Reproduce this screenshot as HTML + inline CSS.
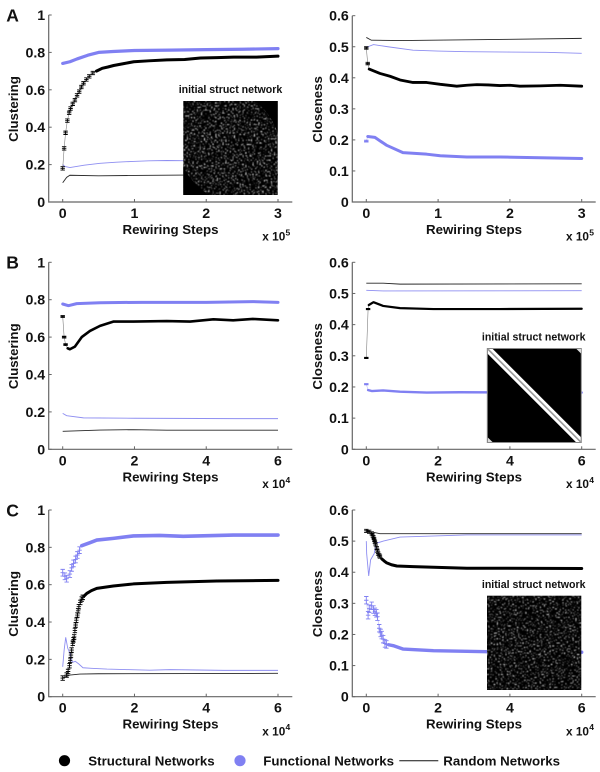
<!DOCTYPE html>
<html>
<head>
<meta charset="utf-8">
<title>Rewiring of networks</title>
<style>
html,body{margin:0;padding:0;background:#fff;}
svg{display:block;filter:blur(0.3px);}
text{font-family:"Liberation Sans",Arial,sans-serif;font-weight:bold;fill:#111;}
</style>
</head>
<body>
<svg id="figure" xmlns="http://www.w3.org/2000/svg" width="600" height="772" viewBox="0 0 600 772">
<defs>
<filter id="noiseA" x="0" y="0" width="100%" height="100%" color-interpolation-filters="sRGB">
<feTurbulence type="fractalNoise" baseFrequency="0.7" numOctaves="1" seed="4"/>
<feColorMatrix type="matrix" values="0 0 0 0 1  0 0 0 0 1  0 0 0 0 1  7 0 0 0 -4.0"/>
<feGaussianBlur stdDeviation="0.4"/>
</filter>
<filter id="noiseC" x="0" y="0" width="100%" height="100%" color-interpolation-filters="sRGB">
<feTurbulence type="fractalNoise" baseFrequency="0.7" numOctaves="1" seed="11"/>
<feColorMatrix type="matrix" values="0 0 0 0 1  0 0 0 0 1  0 0 0 0 1  7 0 0 0 -4.1"/>
<feGaussianBlur stdDeviation="0.4"/>
</filter>
<clipPath id="bclip"><rect x="487.8" y="349" width="93" height="93"/></clipPath>
</defs>
<g id="charts"></g>

<g id="inset-a">
<text x="230.5" y="93" font-size="10.6" text-anchor="middle">initial struct network</text>
<rect x="183.3" y="101" width="94.4" height="94" fill="#000"/>
<rect x="183.3" y="101" width="94.4" height="94" filter="url(#noiseA)"/>
<path d="M255 101 Q270 112 277.7 133 L277.7 101 Z" fill="#000"/>
<path d="M183.3 167 Q192 184 209 195 L183.3 195 Z" fill="#000"/>
</g>

<g id="inset-b">
<text x="533.7" y="340.5" font-size="10.6" text-anchor="middle">initial struct network</text>
<rect x="487.3" y="348.5" width="94" height="94" fill="#000" stroke="#8a8a8a" stroke-width="1"/>
<path d="M487.8 349 L581 442.2" stroke="#fff" stroke-width="7" clip-path="url(#bclip)"/>
<path d="M487.8 349 L581 442.2" stroke="#9a9a9a" stroke-width="1.6" clip-path="url(#bclip)"/>
<path d="M576.5 349 L581 349 L581 353.5 Z" fill="#ddd"/>
<path d="M487.8 437.5 L487.8 442 L492.5 442 Z" fill="#ddd"/>
</g>

<g id="inset-c">
<text x="533.7" y="588" font-size="10.6" text-anchor="middle">initial struct network</text>
<rect x="487" y="595.7" width="94.3" height="94.3" fill="#000"/>
<rect x="487" y="595.7" width="94.3" height="94.3" filter="url(#noiseC)"/>
</g>

<g id="legend">
<circle cx="64.5" cy="760.7" r="5.6" fill="#000"/>
<text x="88.3" y="765.4" font-size="13.3">Structural Networks</text>
<circle cx="240" cy="760.7" r="5.6" fill="#8080f2"/>
<text x="263.3" y="765.4" font-size="13.3">Functional Networks</text>
<line x1="399.3" x2="438.3" y1="760.7" y2="760.7" stroke="#111" stroke-width="1"/>
<text x="443.3" y="765.4" font-size="13.3">Random Networks</text>
</g>
</svg>

<script>
// ---------- chart data ----------
const clusteringTicks = ['0', '0.2', '0.4', '0.6', '0.8', '1'];
const closenessTicks = ['0', '0.1', '0.2', '0.3', '0.4', '0.5', '0.6'];
const xTicksA = ['0', '1', '2', '3'];
const xTicksBC = ['0', '2', '4', '6'];

// Panel A clustering
const aClustStructX = [0, 0.02, 0.04, 0.065, 0.09, 0.11, 0.14, 0.17, 0.2, 0.23, 0.26, 0.29, 0.33, 0.37, 0.42, 0.47, 0.55, 0.63, 0.71, 0.85, 0.99, 1.2, 1.45, 1.7, 1.92, 2.15, 2.38, 2.7, 3];
const aClustStructY = [0.18, 0.287, 0.37, 0.435, 0.477, 0.5, 0.525, 0.545, 0.57, 0.59, 0.615, 0.635, 0.655, 0.672, 0.69, 0.70, 0.715, 0.722, 0.73, 0.74, 0.75, 0.755, 0.76, 0.762, 0.77, 0.772, 0.775, 0.775, 0.78];
const aClustFuncX = [0, 0.1, 0.2, 0.35, 0.5, 0.7, 1, 1.5, 2, 2.5, 3];
const aClustFuncY = [0.741, 0.75, 0.765, 0.785, 0.80, 0.805, 0.81, 0.812, 0.815, 0.817, 0.82];
const aClustFuncRandX = [0, 0.03, 0.1, 0.3, 0.52, 0.75, 0.98, 1.2, 1.45, 1.7, 2.2, 3];
const aClustFuncRandY = [0.2, 0.19, 0.184, 0.197, 0.207, 0.213, 0.217, 0.22, 0.222, 0.221, 0.224, 0.225];
const aClustRandX = [0, 0.055, 0.1, 0.5, 1, 1.7, 3];
const aClustRandY = [0.103, 0.132, 0.143, 0.14, 0.142, 0.144, 0.145];

// Panel A closeness
const aCloseStructX = [0, 0.02, 0.04, 0.19, 0.33, 0.47, 0.65, 0.84, 1.03, 1.26, 1.4, 1.54, 1.7, 1.86, 2.0, 2.14, 2.42, 2.7, 3];
const aCloseStructY = [0.496, 0.446, 0.428, 0.414, 0.405, 0.393, 0.385, 0.385, 0.379, 0.373, 0.376, 0.378, 0.377, 0.375, 0.376, 0.373, 0.374, 0.376, 0.373];
const aCloseFuncX = [0, 0.02, 0.12, 0.28, 0.51, 0.84, 1.03, 1.4, 1.86, 2.33, 3];
const aCloseFuncY = [0.196, 0.211, 0.208, 0.183, 0.159, 0.154, 0.149, 0.145, 0.145, 0.143, 0.14];
const aCloseFuncRandX = [0, 0.1, 0.3, 0.65, 1.0, 1.4, 2.0, 2.5, 3];
const aCloseFuncRandY = [0.498, 0.507, 0.5, 0.489, 0.486, 0.484, 0.483, 0.482, 0.479];
const aCloseRandX = [0, 0.07, 0.5, 0.93, 2, 3];
const aCloseRandY = [0.53, 0.521, 0.52, 0.521, 0.524, 0.527];

// Panel B clustering
const bClustStructX = [0, 0.04, 0.08, 0.14, 0.2, 0.34, 0.53, 0.76, 1.04, 1.41, 1.97, 2.9, 3.55, 4.2, 4.75, 5.3, 6];
const bClustStructY = [0.71, 0.60, 0.56, 0.54, 0.535, 0.549, 0.60, 0.633, 0.66, 0.683, 0.683, 0.686, 0.683, 0.695, 0.69, 0.697, 0.69];
const bClustFuncX = [0, 0.16, 0.39, 1.04, 2.2, 4, 5.3, 6];
const bClustFuncY = [0.777, 0.768, 0.779, 0.784, 0.786, 0.786, 0.79, 0.786];
const bClustFuncRandX = [0, 0.11, 0.58, 2, 4.8, 6];
const bClustFuncRandY = [0.192, 0.18, 0.168, 0.166, 0.164, 0.164];
const bClustRandX = [0, 1.04, 1.97, 2.9, 6];
const bClustRandY = [0.096, 0.103, 0.105, 0.102, 0.102];

// Panel B closeness
const bCloseStructX = [0, 0.05, 0.07, 0.2, 0.47, 0.94, 1.87, 3.7, 6];
const bCloseStructY = [0.293, 0.45, 0.463, 0.472, 0.46, 0.453, 0.45, 0.45, 0.451];
const bCloseFuncX = [0, 0.05, 0.15, 0.47, 0.94, 1.68, 2.6, 6];
const bCloseFuncY = [0.209, 0.19, 0.187, 0.189, 0.185, 0.182, 0.183, 0.182];
const bCloseFuncRandX = [0, 0.47, 6];
const bCloseFuncRandY = [0.51, 0.508, 0.509];
const bCloseRandX = [0, 0.47, 0.94, 6];
const bCloseRandY = [0.533, 0.533, 0.53, 0.531];

// Panel C clustering
const cClustStructX = [0, 0.11, 0.15, 0.19, 0.21, 0.23, 0.25, 0.28, 0.3, 0.32, 0.34, 0.36, 0.38, 0.41, 0.43, 0.45, 0.49, 0.53, 0.56, 0.6, 0.67, 0.8, 0.95, 1.41, 1.97, 2.9, 4.29, 6];
const cClustStructY = [0.10, 0.116, 0.135, 0.166, 0.195, 0.223, 0.25, 0.286, 0.305, 0.32, 0.355, 0.384, 0.41, 0.4375, 0.46, 0.482, 0.505, 0.523, 0.532, 0.54, 0.553, 0.568, 0.58, 0.593, 0.604, 0.6125, 0.62, 0.623];
const cClustFuncX = [0, 0.06, 0.11, 0.2, 0.25, 0.3, 0.36, 0.41, 0.47, 0.53, 0.76, 0.95, 1.41, 1.97, 2.7, 3.36, 4.75, 6];
const cClustFuncY = [0.664, 0.645, 0.632, 0.657, 0.69, 0.714, 0.735, 0.759, 0.785, 0.809, 0.825, 0.839, 0.848, 0.861, 0.864, 0.859, 0.866, 0.866];
const cClustFuncRandX = [0, 0.04, 0.084, 0.14, 0.2, 0.25, 0.3, 0.35, 0.45, 0.565, 0.8, 1.23, 2.43, 3, 4.5, 6];
const cClustFuncRandY = [0.16, 0.25, 0.318, 0.26, 0.233, 0.19, 0.185, 0.19, 0.175, 0.155, 0.152, 0.148, 0.142, 0.145, 0.141, 0.141];
const cClustRandX = [0, 0.2, 0.48, 1, 6];
const cClustRandY = [0.10, 0.116, 0.121, 0.123, 0.125];

// Panel C closeness
const cCloseStructX = [0, 0.08, 0.15, 0.18, 0.2, 0.22, 0.24, 0.26, 0.29, 0.31, 0.33, 0.36, 0.38, 0.43, 0.5, 0.57, 0.7, 0.85, 1.3, 2.8, 6];
const cCloseStructY = [0.533, 0.53, 0.525, 0.518, 0.512, 0.505, 0.498, 0.49, 0.478, 0.469, 0.46, 0.454, 0.45, 0.443, 0.436, 0.43, 0.424, 0.42, 0.418, 0.413, 0.412];
const cCloseFuncX = [0, 0.05, 0.08, 0.15, 0.2, 0.24, 0.28, 0.31, 0.36, 0.4, 0.43, 0.47, 0.52, 0.56, 0.62, 0.75, 1.03, 1.87, 2.8, 3.7, 6];
const cCloseFuncY = [0.31, 0.262, 0.283, 0.292, 0.28, 0.273, 0.268, 0.257, 0.22, 0.205, 0.198, 0.185, 0.171, 0.168, 0.167, 0.164, 0.153, 0.148, 0.146, 0.144, 0.143];
const cCloseFuncRandX = [0, 0.01, 0.067, 0.12, 0.22, 0.27, 0.475, 0.94, 2.8, 6];
const cCloseFuncRandY = [0.50, 0.46, 0.388, 0.44, 0.46, 0.493, 0.50, 0.513, 0.52, 0.52];
const cCloseRandX = [0, 0.38, 6];
const cCloseRandY = [0.533, 0.524, 0.524];

// ---------- rendering ----------
const NS = 'http://www.w3.org/2000/svg';
const root = document.getElementById('charts');
const BLUE = '#8080f2';

function el(tag, parent) {
  const node = document.createElementNS(NS, tag);
  parent.appendChild(node);
  return node;
}

function drawPanel(p) {
  const g = el('g', root);
  
  

  const sx = function (v) { return p.x0 + (v / p.xMax) * (p.x1 - p.x0); };
  const sy = function (v) { return p.yBase - (v / p.yMax) * (p.yBase - p.yTop); };

  // axes
  const axes = el('path', g);
  
  
  axes.setAttribute('d', 'M' + p.axisX + ' ' + p.yTop + ' V' + p.yBase + ' H' + p.axisEnd);
  axes.setAttribute('fill', 'none');
  axes.setAttribute('stroke', '#666');
  axes.setAttribute('stroke-width', '1.2');

  // y ticks
  p.yTicks.forEach(function (label) {
    const y = sy(parseFloat(label));
    const tick = el('line', g);
    
    
    tick.setAttribute('x1', p.axisX);
    tick.setAttribute('x2', p.axisX + 3);
    tick.setAttribute('y1', y);
    tick.setAttribute('y2', y);
    tick.setAttribute('stroke', '#666');
    const text = el('text', g);
    
    
    text.setAttribute('x', p.axisX - 3.5);
    text.setAttribute('y', y + 5);
    text.setAttribute('text-anchor', 'end');
    text.setAttribute('font-size', '14.2');
    text.textContent = label;
  });

  // x ticks
  p.xTicks.forEach(function (label) {
    const x = sx(parseFloat(label));
    const tick = el('line', g);
    
    
    tick.setAttribute('x1', x);
    tick.setAttribute('x2', x);
    tick.setAttribute('y1', p.yBase);
    tick.setAttribute('y2', p.yBase - 3);
    tick.setAttribute('stroke', '#666');
    const text = el('text', g);
    
    
    text.setAttribute('x', x);
    text.setAttribute('y', p.yBase + 16);
    text.setAttribute('text-anchor', 'middle');
    text.setAttribute('font-size', '14.2');
    text.textContent = label;
  });

  // axis titles
  const xTitle = el('text', g);
  
  
  xTitle.setAttribute('x', (p.axisX + p.axisEnd) / 2);
  xTitle.setAttribute('y', p.yBase + 32);
  xTitle.setAttribute('text-anchor', 'middle');
  xTitle.setAttribute('font-size', '13.3');
  xTitle.textContent = 'Rewiring Steps';

  const yTitle = el('text', g);
  
  
  const cy = (p.yTop + p.yBase) / 2 + 0.5;
  yTitle.setAttribute('transform', 'translate(' + (p.axisX - 30.5) + ' ' + cy + ') rotate(-90)');
  yTitle.setAttribute('text-anchor', 'middle');
  yTitle.setAttribute('font-size', '13.3');
  yTitle.textContent = p.yTitle;

  // multiplier
  const mult = el('text', g);
  
  
  mult.setAttribute('x', p.x1 - 15.7);
  mult.setAttribute('y', p.yBase + 38.7);
  mult.setAttribute('font-size', '11.8');
  mult.textContent = 'x 10';
  const exp = el('text', g);
  
  
  exp.setAttribute('x', p.x1 + 7.5);
  exp.setAttribute('y', p.yBase + 33.5);
  exp.setAttribute('font-size', '8.5');
  exp.textContent = p.exponent;

  // panel letter
  if (p.letter) {
    const letter = el('text', g);
    
    
    letter.setAttribute('x', 6.3);
    letter.setAttribute('y', p.letterY);
    letter.setAttribute('font-size', '17.5');
    letter.textContent = p.letter;
  }

  // series
  p.series.forEach(function (s) {
    const pts = s.xs.map(function (v, i) { return sx(v).toFixed(2) + ',' + sy(s.ys[i]).toFixed(2); });

    const thin = el('polyline', g);
    
    
    thin.setAttribute('points', pts.join(' '));
    thin.setAttribute('fill', 'none');
    thin.setAttribute('stroke', s.color);
    thin.setAttribute('stroke-width', s.thin);
    thin.setAttribute('stroke-opacity', s.opacity);

    if (s.thick) {
      const thick = el('polyline', g);
      
      
      thick.setAttribute('points', pts.slice(s.thickFrom).join(' '));
      thick.setAttribute('fill', 'none');
      thick.setAttribute('stroke', s.color);
      thick.setAttribute('stroke-width', s.thick);
      thick.setAttribute('stroke-linejoin', 'round');
      thick.setAttribute('stroke-linecap', 'round');
    }

    if (s.err) {
      s.xs.forEach(function (v, i) {
        if (i >= s.thickFrom) return;
        const x = sx(v);
        const y = sy(s.ys[i]);
        const dy = (s.err / p.yMax) * (p.yBase - p.yTop);
        const mark = el('path', g);
        
        
        mark.setAttribute('d',
          'M' + x + ' ' + (y - dy) + ' V' + (y + dy) +
          ' M' + (x - 2.2) + ' ' + (y - dy) + ' H' + (x + 2.2) +
          ' M' + (x - 2.2) + ' ' + (y + dy) + ' H' + (x + 2.2) +
          ' M' + (x - 2.2) + ' ' + y + ' H' + (x + 2.2));
        mark.setAttribute('fill', 'none');
        mark.setAttribute('stroke', s.color);
        mark.setAttribute('stroke-width', '0.9');
      });
    }
  });
}

function thinBlue(xs, ys) {
  return { name: 'functional-random', xs: xs, ys: ys, color: '#8888f0', thin: 0.9, opacity: 0.95 };
}
function thinBlack(xs, ys) {
  return { name: 'random', xs: xs, ys: ys, color: '#111', thin: 0.9, opacity: 0.9 };
}
function marked(name, color, xs, ys, err, thick, thickFrom) {
  return { name: name, xs: xs, ys: ys, color: color, thin: 0.6, opacity: 0.5, err: err, thick: thick, thickFrom: thickFrom };
}

const leftCol = { axisX: 48.7, axisEnd: 292.3, x0: 62.7, x1: 278, yTitle: 'Clustering', yMax: 1, yTicks: clusteringTicks };
const rightCol = { axisX: 352.3, axisEnd: 595.7, x0: 366.3, x1: 581.7, yTitle: 'Closeness', yMax: 0.6, yTicks: closenessTicks };
const rowA = { yBase: 202, xMax: 3, xTicks: xTicksA, exponent: '5' };
const rowB = { yBase: 449.3, xMax: 6, xTicks: xTicksBC, exponent: '4' };
const rowC = { yBase: 696.7, xMax: 6, xTicks: xTicksBC, exponent: '4' };

drawPanel(Object.assign({}, leftCol, rowA, { name: 'panel-a-clustering', yTop: 15, letter: 'A', letterY: 21.5, series: [
  thinBlack(aClustRandX, aClustRandY),
  thinBlue(aClustFuncRandX, aClustFuncRandY),
  marked('functional', BLUE, aClustFuncX, aClustFuncY, 0.004, 3.2, 0),
  marked('structural', '#000', aClustStructX, aClustStructY, 0.009, 3, 15)
] }));
drawPanel(Object.assign({}, rightCol, rowA, { name: 'panel-a-closeness', yTop: 15.7, series: [
  thinBlack(aCloseRandX, aCloseRandY),
  thinBlue(aCloseFuncRandX, aCloseFuncRandY),
  marked('structural', '#000', aCloseStructX, aCloseStructY, 0.004, 2.8, 2),
  marked('functional', BLUE, aCloseFuncX, aCloseFuncY, 0.003, 3, 1)
] }));
drawPanel(Object.assign({}, leftCol, rowB, { name: 'panel-b-clustering', yTop: 262.3, letter: 'B', letterY: 268.5, series: [
  thinBlack(bClustRandX, bClustRandY),
  thinBlue(bClustFuncRandX, bClustFuncRandY),
  marked('functional', BLUE, bClustFuncX, bClustFuncY, 0.003, 3, 0),
  marked('structural', '#000', bClustStructX, bClustStructY, 0.005, 2.6, 3)
] }));
drawPanel(Object.assign({}, rightCol, rowB, { name: 'panel-b-closeness', yTop: 262.3, series: [
  thinBlack(bCloseRandX, bCloseRandY),
  thinBlue(bCloseFuncRandX, bCloseFuncRandY),
  marked('structural', '#000', bCloseStructX, bCloseStructY, 0.002, 2.2, 2),
  marked('functional', BLUE, bCloseFuncX, bCloseFuncY, 0.002, 2.4, 1)
] }));
drawPanel(Object.assign({}, leftCol, rowC, { name: 'panel-c-clustering', yTop: 510, letter: 'C', letterY: 516.5, series: [
  thinBlack(cClustRandX, cClustRandY),
  thinBlue(cClustFuncRandX, cClustFuncRandY),
  marked('functional', BLUE, cClustFuncX, cClustFuncY, 0.018, 3.6, 9),
  marked('structural', '#000', cClustStructX, cClustStructY, 0.012, 3, 19)
] }));
drawPanel(Object.assign({}, rightCol, rowC, { name: 'panel-c-closeness', yTop: 510, series: [
  thinBlack(cCloseRandX, cCloseRandY),
  thinBlue(cCloseFuncRandX, cCloseFuncRandY),
  marked('structural', '#000', cCloseStructX, cCloseStructY, 0.005, 3, 13),
  marked('functional', BLUE, cCloseFuncX, cCloseFuncY, 0.012, 3.4, 14)
] }));

// Keep the inset images and the legend above the chart marks.
const svgRoot = document.getElementById('figure');
svgRoot.appendChild(document.getElementById('inset-a'));
svgRoot.appendChild(document.getElementById('inset-b'));
svgRoot.appendChild(document.getElementById('inset-c'));
svgRoot.appendChild(document.getElementById('legend'));
</script>
</body>
</html>
